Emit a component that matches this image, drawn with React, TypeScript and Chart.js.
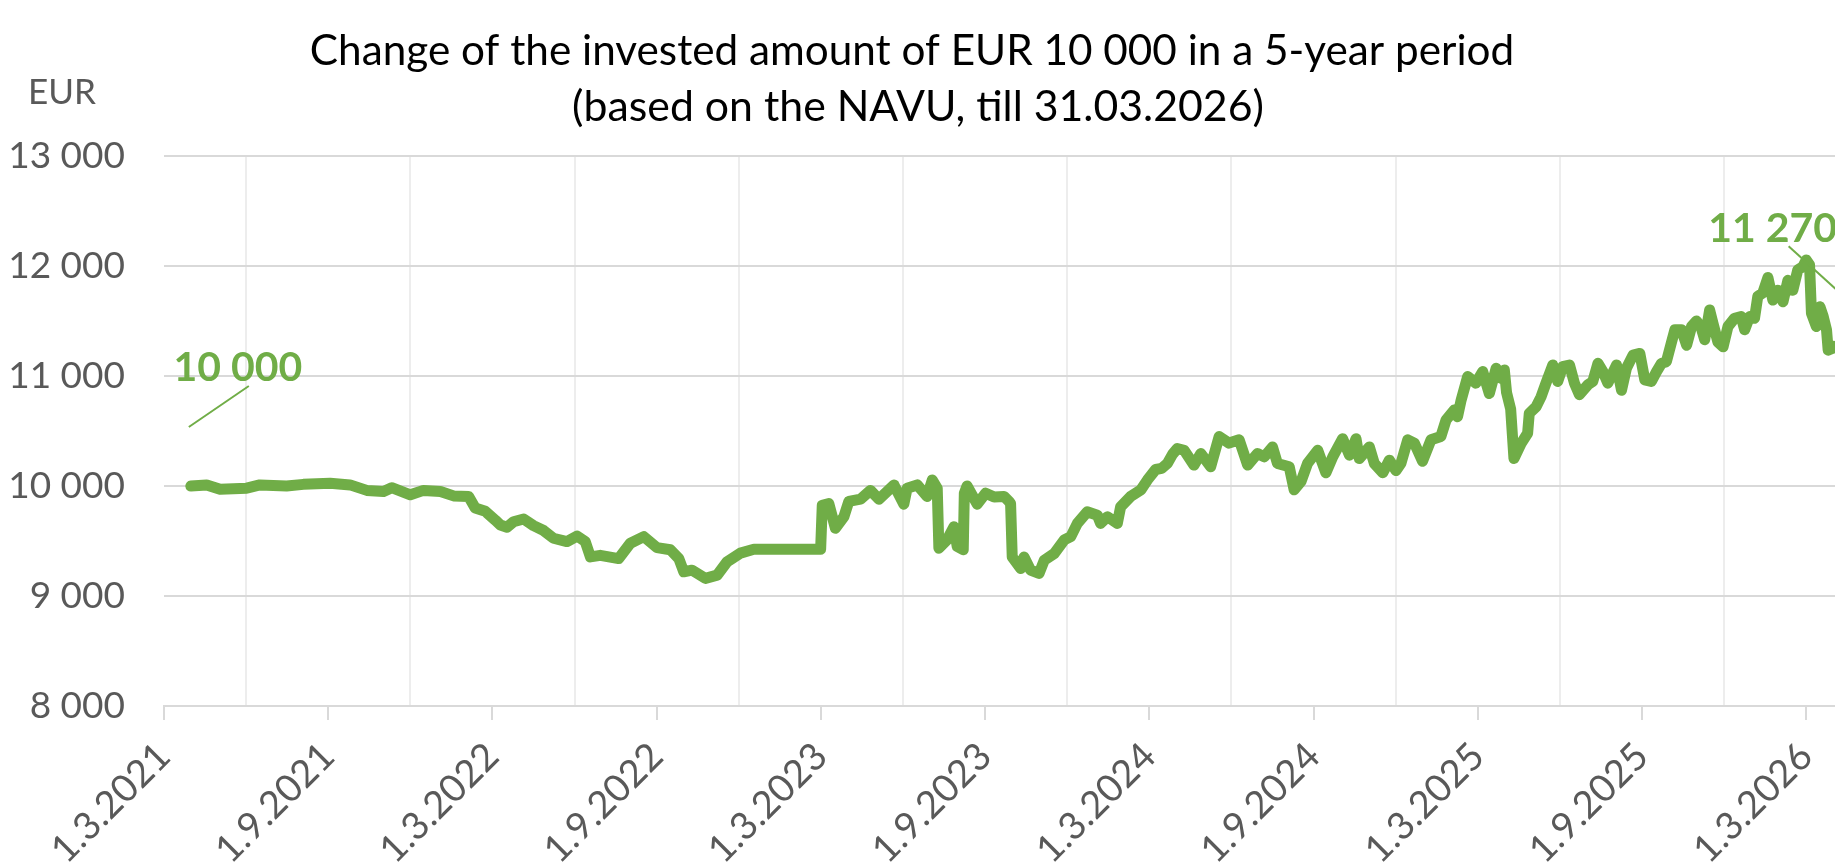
import React, { useEffect, useRef } from 'react';
import { Chart, registerables } from 'chart.js';

Chart.register(...registerables);

const TITLE = 'Change of the invested amount of EUR 10 000 in a 5-year period';
const SUBTITLE = '(based on the NAVU, till 31.03.2026)';
const Y_UNIT = 'EUR';

// x axis: months since 1.3.2021
const tickMonths = [0, 6, 12, 18, 24, 30, 36, 42, 48, 54, 60];
const tickLabels = [
  '1.3.2021', '1.9.2021', '1.3.2022', '1.9.2022', '1.3.2023', '1.9.2023',
  '1.3.2024', '1.9.2024', '1.3.2025', '1.9.2025', '1.3.2026',
];
const gridMonths = [3, 9, 15, 21, 27, 33, 39, 45, 51, 57];

const yTicks = [8000, 9000, 10000, 11000, 12000, 13000];

// series: months since 1.3.2021
const monthOffsets = [
  0.98, 1.56, 2.05, 3.02, 3.5, 4.48, 5.09, 6.07, 6.8, 7.41,
  8.02, 8.32, 9.0, 9.48, 10.1, 10.58, 11.13, 11.37, 11.74, 12.1,
  12.29, 12.53, 12.77, 13.14, 13.5, 13.87, 14.23, 14.72, 15.09, 15.39,
  15.58, 15.94, 16.61, 17.04, 17.53, 18.01, 18.5, 18.81, 18.99, 19.29,
  19.78, 20.21, 20.57, 21.06, 21.55, 23.99, 24.05, 24.29, 24.53, 24.84,
  25.02, 25.45, 25.81, 26.12, 26.67, 27.03, 27.15, 27.52, 27.88, 28.07,
  28.25, 28.31, 28.61, 28.86, 28.98, 29.2, 29.24, 29.34, 29.71, 30.02,
  30.33, 30.69, 30.87, 30.93, 30.99, 31.3, 31.42, 31.66, 31.97, 32.16,
  32.52, 32.89, 33.13, 33.37, 33.73, 34.1, 34.22, 34.47, 34.83, 34.95,
  35.32, 35.69, 35.93, 36.23, 36.45, 36.66, 36.85, 37.02, 37.27, 37.63,
  37.88, 38.24, 38.55, 38.91, 39.28, 39.59, 39.95, 40.2, 40.5, 40.68,
  41.11, 41.29, 41.54, 41.78, 42.15, 42.45, 42.7, 43.06, 43.31, 43.55,
  43.67, 44.04, 44.22, 44.53, 44.77, 45.01, 45.19, 45.44, 45.68, 45.98,
  46.29, 46.65, 46.84, 47.14, 47.26, 47.39, 47.63, 47.93, 48.18, 48.42,
  48.67, 48.85, 48.97, 49.05, 49.2, 49.32, 49.58, 49.82, 49.88, 50.13,
  50.31, 50.49, 50.74, 50.92, 51.1, 51.35, 51.53, 51.71, 52.02, 52.2,
  52.39, 52.57, 52.75, 53.07, 53.25, 53.43, 53.67, 53.92, 54.1, 54.34,
  54.53, 54.71, 54.89, 55.08, 55.2, 55.44, 55.63, 55.81, 55.99, 56.16,
  56.29, 56.47, 56.59, 56.77, 56.96, 57.14, 57.38, 57.62, 57.75, 57.93,
  58.11, 58.23, 58.41, 58.6, 58.78, 58.96, 59.15, 59.33, 59.51, 59.69,
  59.88, 60.0, 60.12, 60.19, 60.37, 60.5, 60.62, 60.74, 60.8, 60.95,
  61.0,
];

const values = [
  10000, 10010, 9970, 9980, 10010, 10000, 10015, 10025, 10010, 9960,
  9950, 9985, 9920, 9960, 9950, 9910, 9905, 9800, 9770, 9690,
  9645, 9625, 9675, 9700, 9640, 9595, 9525, 9495, 9545, 9495,
  9355, 9370, 9340, 9480, 9540, 9440, 9420, 9340, 9220, 9235,
  9160, 9190, 9310, 9390, 9425, 9425, 9825, 9840, 9615, 9720,
  9860, 9880, 9960, 9880, 10010, 9835, 9980, 10010, 9905, 10055,
  9980, 9435, 9510, 9630, 9450, 9420, 9935, 10000, 9835, 9935,
  9900, 9905, 9860, 9840, 9355, 9250, 9355, 9235, 9205, 9325,
  9385, 9510, 9540, 9660, 9765, 9735, 9660, 9720, 9660, 9810,
  9905, 9965, 10055, 10150, 10160, 10205, 10290, 10340, 10325, 10190,
  10295, 10175, 10450, 10390, 10420, 10190, 10295, 10265, 10355, 10205,
  10175, 9965, 10040, 10205, 10325, 10120, 10265, 10430, 10280, 10430,
  10250, 10355, 10205, 10120, 10235, 10140, 10205, 10420, 10390, 10225,
  10420, 10450, 10600, 10690, 10630, 10780, 10995, 10935, 11040, 10840,
  11070, 10980, 11055, 10850, 10700, 10250, 10385, 10480, 10660, 10720,
  10810, 10935, 11100, 10950, 11085, 11100, 10935, 10830, 10920, 10950,
  11115, 11040, 10935, 11100, 10870, 11070, 11190, 11205, 10965, 10950,
  11040, 11115, 11130, 11310, 11420, 11420, 11280, 11450, 11500, 11440,
  11330, 11600, 11480, 11310, 11265, 11450, 11525, 11540, 11420, 11540,
  11525, 11725, 11755, 11895, 11690, 11780, 11675, 11870, 11780, 11965,
  11995, 12055, 12010, 11570, 11450, 11630, 11540, 11420, 11235, 11250,
  11270,
];

const startLabel = '10 000';
const endLabel = '11 270';

const GREEN = '#70AD47';
const GREY_TEXT = '#595959';
const FONT = 'Lato';

const fmt = (v: number) => String(v).replace(/\B(?=(\d{3})+(?!\d))/g, ' ');

function fitFont(ctx: CanvasRenderingContext2D, text: string, weight: string, target: number) {
  ctx.font = `${weight} 100px ${FONT}`;
  const w = ctx.measureText(text).width;
  return (100 * target) / w;
}

const titlePlugin = {
  id: 'titles',
  afterDraw(chart: any) {
    const ctx: CanvasRenderingContext2D = chart.ctx;
    ctx.save();
    ctx.textAlign = 'center';
    ctx.textBaseline = 'alphabetic';
    ctx.fillStyle = '#000000';
    let s = fitFont(ctx, TITLE, '400', 1205);
    ctx.font = `400 ${s}px ${FONT}`;
    ctx.fillText(TITLE, 912, 65);
    s = fitFont(ctx, SUBTITLE, '400', 692);
    ctx.font = `400 ${s}px ${FONT}`;
    ctx.fillText(SUBTITLE, 918, 121);
    ctx.fillStyle = GREY_TEXT;
    s = fitFont(ctx, Y_UNIT, '400', 68);
    ctx.font = `400 ${s}px ${FONT}`;
    ctx.fillText(Y_UNIT, 62, 104);
    ctx.restore();
  },
};

const labelPlugin = {
  id: 'endLabels',
  afterDatasetsDraw(chart: any) {
    const ctx: CanvasRenderingContext2D = chart.ctx;
    const pts = chart.getDatasetMeta(0).data;
    if (!pts.length) return;
    const first = pts[0];
    const last = pts[pts.length - 1];
    ctx.save();
    ctx.fillStyle = GREEN;
    ctx.strokeStyle = GREEN;
    ctx.lineWidth = 2;
    ctx.font = `700 41px ${FONT}`;
    ctx.textAlign = 'center';
    ctx.textBaseline = 'middle';
    // start label
    ctx.fillText(startLabel, first.x + 47, first.y - 118);
    ctx.beginPath();
    ctx.moveTo(first.x - 2, first.y - 59);
    ctx.lineTo(first.x + 58, first.y - 100);
    ctx.stroke();
    // end label
    ctx.fillText(endLabel, last.x - 61, last.y - 118);
    ctx.beginPath();
    ctx.moveTo(last.x - 45, last.y - 100);
    ctx.lineTo(last.x + 40, last.y - 23);
    ctx.stroke();
    ctx.restore();
  },
};

export default function App() {
  const ref = useRef<HTMLCanvasElement | null>(null);

  useEffect(() => {
    if (!ref.current) return;
    const data = monthOffsets.map((m, i) => ({ x: m, y: values[i] }));
    const chart = new Chart(ref.current, {
      type: 'line',
      data: {
        datasets: [
          {
            data,
            borderColor: GREEN,
            backgroundColor: GREEN,
            borderWidth: 11,
            pointRadius: 0,
            tension: 0,
            borderJoinStyle: 'round',
            borderCapStyle: 'round',
          } as any,
        ],
      },
      options: {
        responsive: false,
        animation: false,
        devicePixelRatio: 1,
        layout: { padding: { top: 156, left: 0, right: 0, bottom: 0 } },
        plugins: {
          legend: { display: false },
          title: { display: false },
          tooltip: { enabled: false },
        },
        scales: {
          x: {
            type: 'linear',
            min: 0,
            max: 61.05,
            afterBuildTicks: (scale: any) => {
              const all = [...tickMonths, ...gridMonths].sort((a, b) => a - b);
              scale.ticks = all.map((v) => ({ value: v }));
            },
            afterFit: (scale: any) => {
              scale.height = 159;
              scale.paddingLeft = 0;
              scale.paddingRight = 0;
            },
            grid: {
              color: (c: any) => (gridMonths.includes(c.tick?.value) ? '#EDEDED' : 'rgba(0,0,0,0)'),
              lineWidth: 2,
              tickColor: (c: any) => (tickMonths.includes(c.tick?.value) ? '#D9D9D9' : 'rgba(0,0,0,0)'),
              tickLength: 14,
              tickWidth: 2,
            },
            border: { display: true, color: '#D9D9D9', width: 2 },
            ticks: {
              autoSkip: false,
              maxRotation: 45,
              minRotation: 45,
              padding: 14,
              color: GREY_TEXT,
              font: { family: FONT, size: 38 },
              callback: (v: any) => {
                const i = tickMonths.indexOf(Number(v));
                return i >= 0 ? tickLabels[i] : '';
              },
            },
          },
          y: {
            type: 'linear',
            min: 8000,
            max: 13000,
            afterBuildTicks: (scale: any) => {
              scale.ticks = yTicks.map((v) => ({ value: v }));
            },
            afterFit: (scale: any) => {
              scale.width = 164;
              scale.paddingTop = 0;
              scale.paddingBottom = 0;
            },
            grid: { color: '#D9D9D9', lineWidth: 2, drawTicks: false },
            border: { display: false },
            ticks: {
              padding: 39,
              color: GREY_TEXT,
              font: { family: FONT, size: 37 },
              callback: (v: any) => fmt(Number(v)),
            },
          },
        },
      },
      plugins: [titlePlugin, labelPlugin],
    });
    return () => chart.destroy();
  }, []);

  return (
    <div style={{ position: 'fixed', left: 0, top: 0, width: 1835, height: 865, overflow: 'hidden', background: '#fff' }}>
      <canvas ref={ref} width={1835} height={865} style={{ display: 'block' }} />
    </div>
  );
}
